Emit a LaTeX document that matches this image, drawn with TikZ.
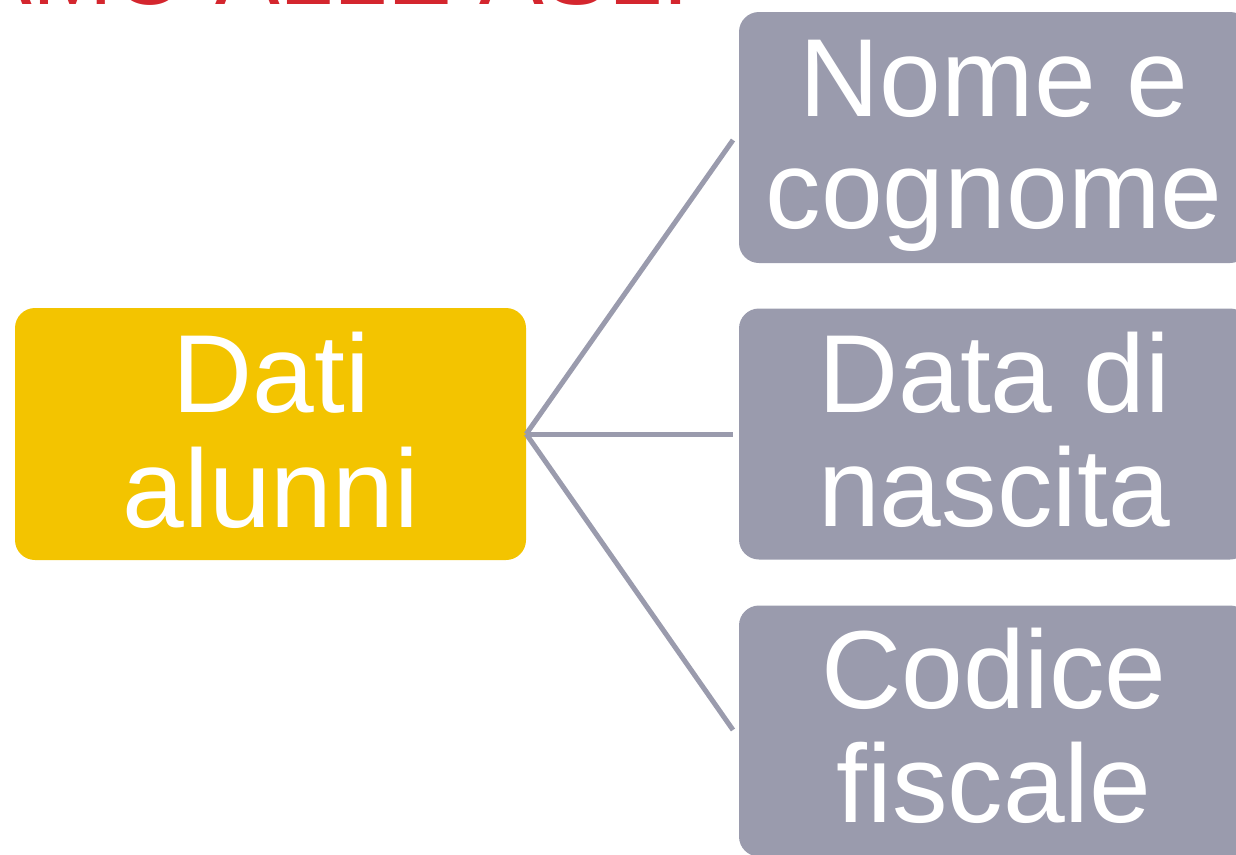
\documentclass[tikz,border=0pt]{standalone}
\usepackage{fontspec}
\setmainfont{Liberation Sans}
\definecolor{boxgray}{RGB}{154,155,173}
\definecolor{boxyellow}{RGB}{243,196,0}
\definecolor{headred}{RGB}{212,38,46}
\begin{document}
\begin{tikzpicture}[x=1pt,y=-1pt,
  box/.style={rounded corners=20pt, inner sep=0pt, draw=none},
  graybox/.style={box, fill=boxgray, minimum width=511pt, minimum height=251pt},
  yellowbox/.style={box, fill=boxyellow, minimum width=511pt, minimum height=252pt},
  txt/.style={anchor=base, text=white, inner sep=0pt, font=\fontsize{111}{115}\selectfont},
  conn/.style={draw=boxgray, line width=5pt}
]
\useasboundingbox (0,0) rectangle (1236,854);
% heading (cut off at the top)
\node[anchor=base east, text=headred, inner sep=0pt, font=\fontsize{97}{100}\selectfont] (head) at (690,4) {INVIAMO ALLE ASL:};
% connector ends
\coordinate (e1) at (733,140);
\coordinate (e2) at (733,434);
\coordinate (e3) at (733,730);
% boxes
\node[yellowbox] (dati) at (270.5,434) {};
\draw[conn] (dati.east) -- (e1);
\draw[conn] (dati.east) -- (e2);
\draw[conn] (dati.east) -- (e3);
\node[graybox] (nome) at (994.5,137.5) {};
\node[graybox] (data) at (994.5,434) {};
\node[graybox] (codice) at (994.5,731) {};
% texts
\node[txt] (t1) at (271,412) {Dati};
\node[txt] (t2) at (271,527) {alunni};
\node[txt] (t3) at (994,116) {Nome e};
\node[txt] (t4) at (994,228) {cognome};
\node[txt] (t5) at (994,412) {Data di};
\node[txt] (t6) at (994,526) {nascita};
\node[txt] (t7) at (994,708) {Codice};
\node[txt] (t8) at (994,822) {fiscale};
\end{tikzpicture}
\end{document}
